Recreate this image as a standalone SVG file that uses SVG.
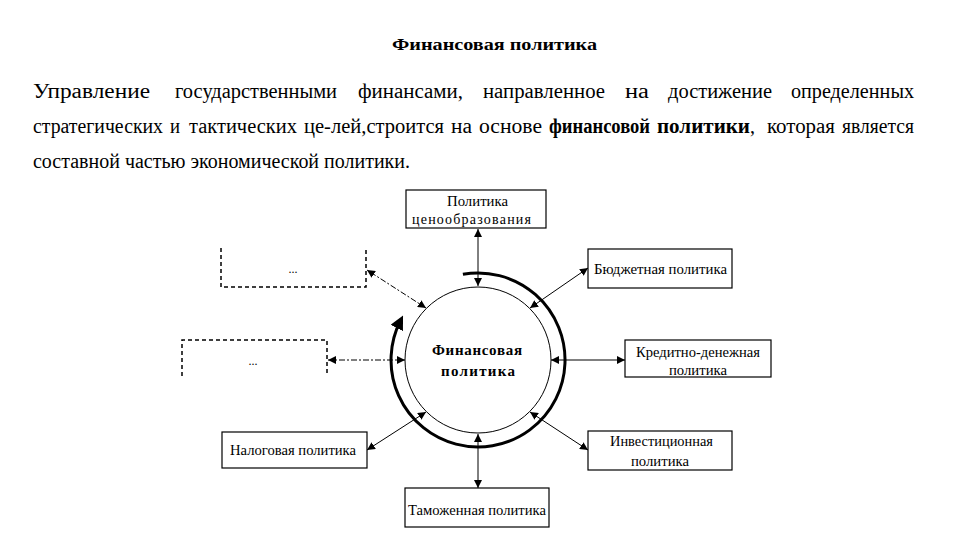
<svg xmlns="http://www.w3.org/2000/svg" width="960" height="540" viewBox="0 0 960 540" font-family="'Liberation Serif','Times New Roman',serif">
<defs>
<style>
text{font-family:"Liberation Serif","Times New Roman",serif;fill:#000}
.p{font-size:20px}
.b{font-weight:bold}
.box{fill:#fff;stroke:#000;stroke-width:1.2}
.dbox{fill:none;stroke:#000;stroke-width:1.5;stroke-dasharray:4,3}
.ln{stroke:#000;stroke-width:1;fill:none}
.dd{stroke-dasharray:6,2,2,2}
</style>
<marker id="ah" viewBox="0 0 10 10" refX="10" refY="5" markerWidth="8" markerHeight="8" markerUnits="userSpaceOnUse" orient="auto-start-reverse">
<path d="M0,0 L10,5 L0,10 z" fill="#000"/>
</marker>
<marker id="big" viewBox="0 0 10 10" refX="6" refY="5" markerWidth="14" markerHeight="14" markerUnits="userSpaceOnUse" orient="auto">
<path d="M0,0 L10,5 L0,10 z" fill="#000"/>
</marker>
</defs>
<rect width="960" height="540" fill="#fff"/>
<text x="392" y="50" class="b" font-size="16" textLength="205" lengthAdjust="spacingAndGlyphs">Финансовая политика</text>
<g class="p">
<text x="33" y="98" textLength="117" lengthAdjust="spacingAndGlyphs">Управление</text>
<text x="175" y="98" textLength="162" lengthAdjust="spacingAndGlyphs">государственными</text>
<text x="358" y="98" textLength="105" lengthAdjust="spacingAndGlyphs">финансами,</text>
<text x="483" y="98" textLength="122" lengthAdjust="spacingAndGlyphs">направленное</text>
<text x="625" y="98" textLength="24" lengthAdjust="spacingAndGlyphs">на</text>
<text x="668" y="98" textLength="104" lengthAdjust="spacingAndGlyphs">достижение</text>
<text x="791" y="98" textLength="123" lengthAdjust="spacingAndGlyphs">определенных</text>
<text x="33" y="133" textLength="130" lengthAdjust="spacingAndGlyphs">стратегических</text>
<text x="170" y="133" textLength="10" lengthAdjust="spacingAndGlyphs">и</text>
<text x="189" y="133" textLength="108" lengthAdjust="spacingAndGlyphs">тактических</text>
<text x="304" y="133" textLength="140" lengthAdjust="spacingAndGlyphs">це-лей,строится</text>
<text x="451" y="133" textLength="21" lengthAdjust="spacingAndGlyphs">на</text>
<text x="479" y="133" textLength="63" lengthAdjust="spacingAndGlyphs">основе</text>
<text x="549" y="133" class="b" textLength="101" lengthAdjust="spacingAndGlyphs">финансовой</text>
<text x="657" y="133" class="b" textLength="93" lengthAdjust="spacingAndGlyphs">политики</text>
<text x="750" y="133">,</text>
<text x="767" y="133" textLength="68" lengthAdjust="spacingAndGlyphs">которая</text>
<text x="842" y="133" textLength="72" lengthAdjust="spacingAndGlyphs">является</text>
<text x="33" y="168" textLength="377" lengthAdjust="spacingAndGlyphs">составной частью экономической политики.</text>
</g>
<g id="connectors">
<path class="ln" d="M478,229 L478,286" marker-start="url(#ah)" marker-end="url(#ah)"/>
<path class="ln" d="M530,308 L588,268" marker-start="url(#ah)" marker-end="url(#ah)"/>
<path class="ln" d="M551,360 L625,360" marker-start="url(#ah)" marker-end="url(#ah)"/>
<path class="ln" d="M530,412 L588,450" marker-start="url(#ah)" marker-end="url(#ah)"/>
<path class="ln" d="M478,434 L478,488" marker-start="url(#ah)" marker-end="url(#ah)"/>
<path class="ln" d="M426,412 L367,450" marker-start="url(#ah)" marker-end="url(#ah)"/>
<path class="ln dd" d="M405,360 L328,360" marker-start="url(#ah)" marker-end="url(#ah)"/>
<path class="ln dd" d="M426,308 L367,270" marker-start="url(#ah)" marker-end="url(#ah)"/>
<path d="M462.9,274.3 A87,87 0 1 1 400.5,320.5" fill="none" stroke="#000" stroke-width="3" marker-end="url(#big)"/>
</g>
<g id="center">
<circle cx="478" cy="360" r="73" fill="#fff" stroke="#000" stroke-width="1"/>
<text x="432" y="355" class="b" font-size="15" textLength="90" lengthAdjust="spacing">Финансовая</text>
<text x="441" y="376" class="b" font-size="15" textLength="74" lengthAdjust="spacing">политика</text>
</g>
<g id="price">
<rect class="box" x="406" y="190" width="140" height="38"/>
<text x="447" y="206" font-size="15" textLength="61" lengthAdjust="spacingAndGlyphs">Политика</text>
<text x="412" y="224" font-size="14" textLength="119" lengthAdjust="spacing">ценообразования</text>
</g>
<g id="budget">
<rect class="box" x="588" y="249" width="144" height="39"/>
<text x="594" y="274" font-size="15" textLength="133" lengthAdjust="spacingAndGlyphs">Бюджетная политика</text>
</g>
<g id="credit">
<rect class="box" x="625" y="340" width="146" height="37"/>
<text x="636" y="357" font-size="15" textLength="124" lengthAdjust="spacingAndGlyphs">Кредитно-денежная</text>
<text x="669" y="375" font-size="15" textLength="58" lengthAdjust="spacingAndGlyphs">политика</text>
</g>
<g id="invest">
<rect class="box" x="588" y="431" width="144" height="39"/>
<text x="610" y="446" font-size="15" textLength="103" lengthAdjust="spacingAndGlyphs">Инвестиционная</text>
<text x="631" y="466" font-size="15" textLength="58" lengthAdjust="spacingAndGlyphs">политика</text>
</g>
<g id="customs">
<rect class="box" x="405" y="488" width="144" height="39"/>
<text x="408" y="515" font-size="15" textLength="138" lengthAdjust="spacingAndGlyphs">Таможенная политика</text>
</g>
<g id="tax">
<rect class="box" x="222" y="432" width="145" height="36"/>
<text x="230" y="455" font-size="15" textLength="126" lengthAdjust="spacingAndGlyphs">Налоговая политика</text>
</g>
<g id="other1">
<path class="dbox" d="M221,248 L221,287 L366,287 L366,248"/>
<text x="293" y="273" font-size="12" text-anchor="middle" fill="#555">...</text>
</g>
<g id="other2">
<path class="dbox" d="M182,376 L182,340 L327,340 L327,376"/>
<text x="253" y="365" font-size="12" text-anchor="middle" fill="#555">...</text>
</g>
</svg>
